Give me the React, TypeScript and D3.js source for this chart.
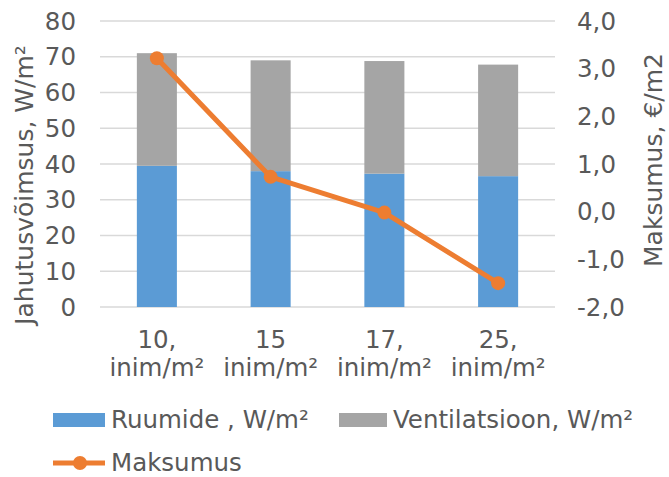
import React from "react";
import * as d3 from "d3";

const categories = ["10,|inim/m²", "15|inim/m²", "17,|inim/m²", "25,|inim/m²"];
const ruumide = [39.5, 38, 37.3, 36.6];
const ventilatsioon = [31.5, 31, 31.5, 31.2];
const maksumus = [3.22, 0.73, -0.02, -1.5];
const leftTicks = [0, 10, 20, 30, 40, 50, 60, 70, 80];
const rightTicks = [-2, -1, 0, 1, 2, 3, 4];

const W = 669;
const H = 477;
const FONT = "'DejaVu Sans', Verdana, sans-serif";
const TEXT = "#595959";
const BLUE = "#5B9BD5";
const GRAY = "#A5A5A5";
const ORANGE = "#ED7D31";
const FS = 24.5;
const FS_TITLE = 25;
const FS_LEGEND = 24.5;

export default function App() {
  const plot = { left: 100, right: 555, top: 21, bottom: 307 };
  const x = d3
    .scaleBand<number>()
    .domain(d3.range(categories.length))
    .range([plot.left, plot.right])
    .paddingInner(0.648)
    .paddingOuter(0.324);
  const yL = d3.scaleLinear().domain([0, 80]).range([plot.bottom, plot.top]);
  const yR = d3.scaleLinear().domain([-2, 4]).range([plot.bottom, plot.top]);
  const cx = (i: number) => (x(i) as number) + x.bandwidth() / 2;

  const line = d3
    .line<number>()
    .x((_, i) => cx(i))
    .y((d) => yR(d));

  const fmtR = (v: number) => v.toFixed(1).replace(".", ",");

  return (
    <svg width={W} height={H} style={{ display: "block", position: "absolute", left: 0, top: 0 }} fontFamily={FONT}>
      <rect width={W} height={H} fill="#fff" />
      {leftTicks.map((t) => (
        <line key={"g" + t} x1={plot.left} x2={plot.right} y1={yL(t)} y2={yL(t)} stroke="#D9D9D9" strokeWidth={1.3} />
      ))}
      {categories.map((_, i) => (
        <g key={"b" + i}>
          <rect x={x(i)} width={x.bandwidth()} y={yL(ruumide[i])} height={yL(0) - yL(ruumide[i])} fill={BLUE} />
          <rect
            x={x(i)}
            width={x.bandwidth()}
            y={yL(ruumide[i] + ventilatsioon[i])}
            height={yL(ruumide[i]) - yL(ruumide[i] + ventilatsioon[i])}
            fill={GRAY}
          />
        </g>
      ))}
      <path d={line(maksumus) || ""} fill="none" stroke={ORANGE} strokeWidth={5} strokeLinejoin="round" />
      {maksumus.map((v, i) => (
        <circle key={"m" + i} cx={cx(i)} cy={yR(v)} r={7} fill={ORANGE} />
      ))}
      {leftTicks.map((t) => (
        <text key={"l" + t} x={76} y={yL(t)} textAnchor="end" dominantBaseline="central" fontSize={FS} fill={TEXT}>
          {t}
        </text>
      ))}
      {rightTicks.map((t) => (
        <text key={"r" + t} x={577} y={yR(t)} textAnchor="start" dominantBaseline="central" fontSize={FS} fill={TEXT}>
          {fmtR(t)}
        </text>
      ))}
      {categories.map((c, i) => {
        const [a, b] = c.split("|");
        return (
          <text key={"c" + i} x={cx(i)} textAnchor="middle" fontSize={FS} fill={TEXT}>
            <tspan x={cx(i)} y={348}>{a}</tspan>
            <tspan x={cx(i)} y={376}>{b}</tspan>
          </text>
        );
      })}
      <text transform="translate(33,185) rotate(-90)" textAnchor="middle" fontSize={FS_TITLE} fill={TEXT}>
        Jahutusvõimsus, W/m²
      </text>
      <text transform="translate(662,160) rotate(-90)" textAnchor="middle" fontSize={FS_TITLE} fill={TEXT}>
        Maksumus, €/m2
      </text>
      <rect x={53} y={413} width={52} height={14} fill={BLUE} />
      <text x={111} y={428} fontSize={FS_LEGEND} fill={TEXT}>Ruumide , W/m²</text>
      <rect x={339} y={413} width={48} height={14} fill={GRAY} />
      <text x={393} y={428} fontSize={FS_LEGEND} fill={TEXT}>Ventilatsioon, W/m²</text>
      <line x1={53} x2={105} y1={463} y2={463} stroke={ORANGE} strokeWidth={5} />
      <circle cx={80} cy={463} r={7} fill={ORANGE} />
      <text x={111} y={471} fontSize={FS_LEGEND} fill={TEXT}>Maksumus</text>
    </svg>
  );
}
